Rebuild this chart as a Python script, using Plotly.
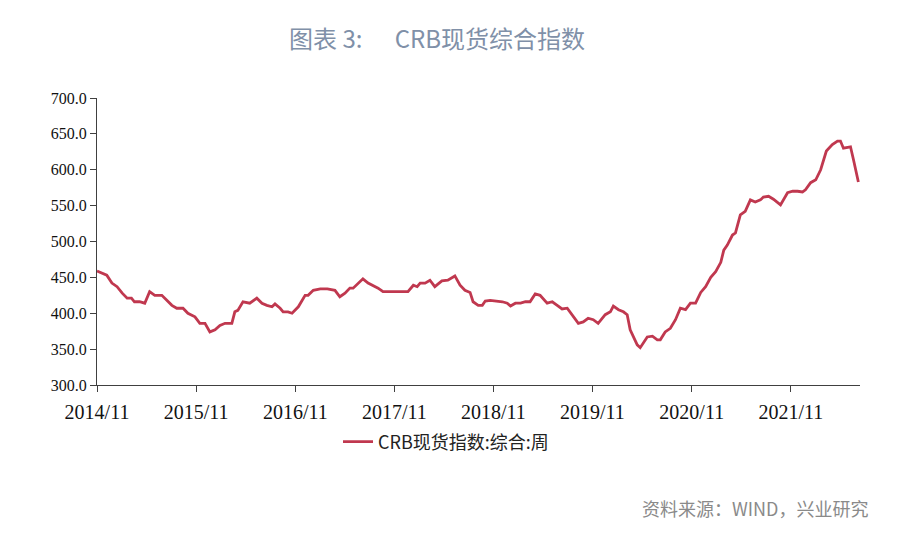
import plotly.graph_objects as go

dates = [
    "2014-11-01", "2014-11-23", "2014-12-07", "2014-12-26", "2015-01-14", "2015-02-02",
    "2015-02-20", "2015-03-08", "2015-03-19", "2015-04-07", "2015-04-26", "2015-05-14",
    "2015-06-02", "2015-06-28", "2015-07-16", "2015-08-04", "2015-08-22", "2015-09-14",
    "2015-10-02", "2015-10-28", "2015-11-15", "2015-12-04", "2015-12-22", "2016-01-10",
    "2016-01-28", "2016-02-16", "2016-03-12", "2016-03-23", "2016-04-03", "2016-04-22",
    "2016-05-17", "2016-06-12", "2016-07-01", "2016-07-19", "2016-08-07", "2016-08-18",
    "2016-09-06", "2016-09-17", "2016-10-05", "2016-10-20", "2016-11-12", "2016-12-07",
    "2016-12-18", "2017-01-06", "2017-02-01", "2017-02-27", "2017-03-27", "2017-04-14",
    "2017-05-03", "2017-05-21", "2017-06-02", "2017-06-20", "2017-07-08", "2017-07-27",
    "2017-08-14", "2017-09-02", "2017-09-20", "2017-10-23", "2017-11-15", "2017-12-10",
    "2017-12-21", "2018-01-10", "2018-01-24", "2018-02-04", "2018-02-22", "2018-03-12",
    "2018-03-30", "2018-04-25", "2018-05-17", "2018-06-12", "2018-07-01", "2018-07-19",
    "2018-08-07", "2018-08-18", "2018-09-06", "2018-09-21", "2018-10-02", "2018-10-20",
    "2018-11-15", "2018-12-04", "2018-12-22", "2019-01-03", "2019-01-21", "2019-02-09",
    "2019-02-27", "2019-03-16", "2019-04-04", "2019-04-22", "2019-05-18", "2019-06-06",
    "2019-06-24", "2019-07-12", "2019-07-31", "2019-08-18", "2019-09-10", "2019-09-28",
    "2019-10-16", "2019-11-04", "2019-11-22", "2019-12-18", "2020-01-06", "2020-01-17",
    "2020-02-05", "2020-02-23", "2020-03-08", "2020-03-19", "2020-03-30", "2020-04-14",
    "2020-04-25", "2020-05-06", "2020-05-21", "2020-06-09", "2020-06-27", "2020-07-08",
    "2020-07-26", "2020-08-14", "2020-09-02", "2020-09-20", "2020-10-09", "2020-10-27",
    "2020-11-15", "2020-12-04", "2020-12-22", "2021-01-10", "2021-01-28", "2021-02-16",
    "2021-02-27", "2021-03-12", "2021-03-31", "2021-04-11", "2021-04-29", "2021-05-17",
    "2021-06-05", "2021-06-23", "2021-07-12", "2021-07-23", "2021-08-11", "2021-08-29",
    "2021-09-24", "2021-10-20", "2021-11-08", "2021-11-26", "2021-12-14", "2021-12-25",
    "2022-01-13", "2022-02-01", "2022-02-19", "2022-03-12", "2022-04-03", "2022-04-22",
    "2022-05-03", "2022-05-14", "2022-06-09", "2022-06-20", "2022-07-08",
]

crb_values = [
    459, 456, 453, 442, 437, 428,
    421, 421, 416, 416, 414, 430,
    425, 425, 418, 411, 407, 407,
    400, 395, 386, 386, 374, 377,
    383, 386, 386, 402, 404, 416,
    414, 421, 414, 411, 409, 413,
    407, 402, 402, 400, 409, 425,
    425, 432, 434, 434, 432, 423,
    428, 435, 435, 442, 448, 442,
    439, 435, 430, 430, 430, 430,
    430, 439, 437, 442, 442, 446,
    437, 445, 446, 452, 439, 432,
    429, 416, 411, 411, 417, 418,
    417, 416, 414, 410, 414, 414,
    416, 416, 427, 425, 414, 416,
    411, 406, 407, 398, 386, 388,
    393, 391, 386, 398, 402, 410,
    405, 402, 398, 377, 367, 356,
    352, 358, 367, 368, 363, 363,
    374, 379, 391, 407, 405, 414,
    414, 429, 437, 450, 458, 471,
    488, 495, 509, 512, 537, 542,
    558, 555, 558, 562, 563, 559,
    551, 568, 570, 570, 569, 572,
    582, 586, 600, 626, 635, 640,
    640, 630, 632, 614, 583,
]

series_name = "CRB现货指数:综合:周"
title_text = "图表 3:      CRB现货综合指数"
source_text = "资料来源：WIND，兴业研究"
y_ticks = [300, 350, 400, 450, 500, 550, 600, 650, 700]

fig = go.Figure()
fig.add_trace(go.Scatter(
    x=dates, y=crb_values, mode="lines", name=series_name,
    line=dict(color="#C0384F", width=2.8),
))

# page has an 8px body margin; figure coords = page coords - 8
W, H = 886, 521
L, R, T, B = 89, 34, 90, 144
pw = W - L - R
ph = H - T - B

fig.update_layout(
    width=W, height=H,
    margin=dict(l=L, r=R, t=T, b=B),
    paper_bgcolor="white", plot_bgcolor="white",
    showlegend=True,
    legend=dict(
        orientation="h", x=(330 - L) / pw, xanchor="left",
        y=(H - B - 434) / ph, yanchor="middle",
        font=dict(family="Noto Sans CJK SC", size=18, color="#222222"),
        bgcolor="rgba(0,0,0,0)",
    ),
    title=dict(
        text=title_text, x=429 / W, xanchor="center", xref="container",
        y=1 - 32 / H, yanchor="middle",
        font=dict(family="Noto Sans CJK SC", size=24, color="#8090A8"),
    ),
    xaxis=dict(
        type="date",
        range=["2014-11-01", "2022-07-14"],
        tick0="2014-11-01", dtick="M12", tickformat="%Y/%m",
        ticks="outside", ticklen=6, tickcolor="#404040",
        ticklabelstandoff=3,
        showline=True, linecolor="#404040", linewidth=1.2,
        showgrid=False, zeroline=False,
        tickfont=dict(family="Liberation Serif", size=20, color="#111111"),
    ),
    yaxis=dict(
        range=[300, 700],
        tickvals=y_ticks, tickformat=".1f",
        ticks="outside", ticklen=6, tickcolor="#404040",
        showline=True, linecolor="#404040", linewidth=1.2,
        showgrid=False, zeroline=False,
        tickfont=dict(family="Liberation Serif", size=16, color="#111111"),
    ),
    annotations=[
        dict(
            text=source_text, xref="paper", yref="paper",
            x=(862 - L) / pw, xanchor="right",
            y=(H - B - 500) / ph, yanchor="middle",
            showarrow=False,
            font=dict(family="Noto Sans CJK SC", size=18, color="#8A8A8A"),
        )
    ],
)

fig.write_html("out.html")
